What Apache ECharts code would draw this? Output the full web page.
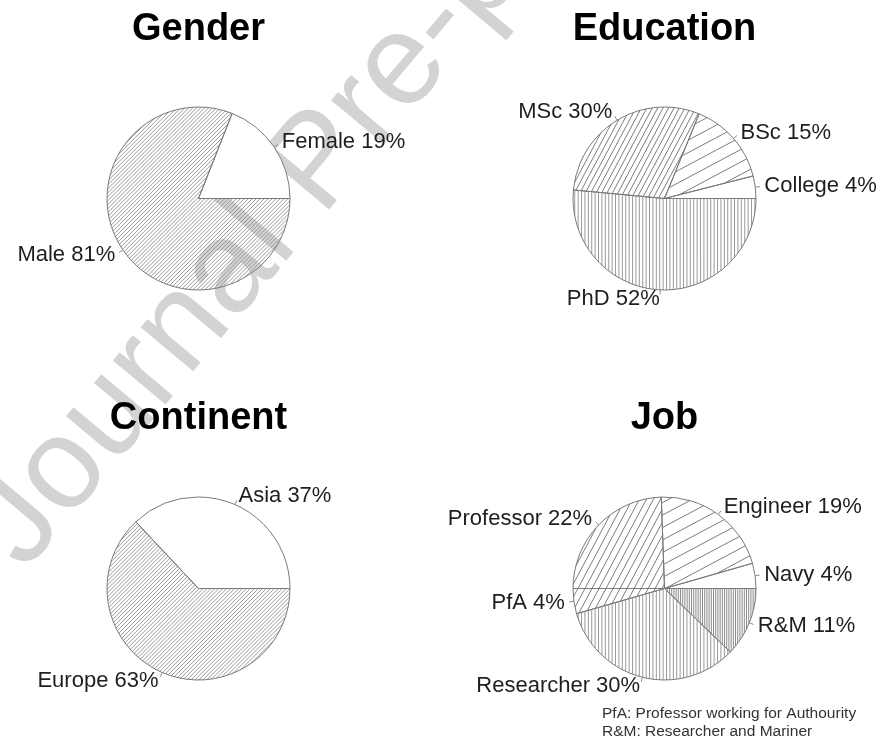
<!DOCTYPE html>
<html>
<head>
<meta charset="utf-8">
<script src="https://cdn.jsdelivr.net/npm/echarts@6/dist/echarts.min.js"></script>
<style>
html,body{margin:0;padding:0;background:#fff;}
#chart{width:883px;height:740px;}
</style>
</head>
<body>
<div id="chart"></div>
<script>
// ---- data ----
const titles = ['Gender', 'Education', 'Continent', 'Job'];
const genderCats = ['Female', 'Male'];
const genderVals = [19, 81];
const eduCats = ['College', 'BSc', 'MSc', 'PhD'];
const eduVals = [4, 15, 30, 52];
const contCats = ['Asia', 'Europe'];
const contVals = [37, 63];
const jobCats = ['Navy', 'Engineer', 'Professor', 'PfA', 'Researcher', 'R&M'];
const jobVals = [4, 19, 22, 4, 30, 11];
const footnotes = ['PfA: Professor working for Authourity', 'R&M: Researcher and Mariner'];
const watermark = 'Journal Pre-proof';

// ---- styles ----
const FONT = "'Liberation Sans', Arial, Helvetica, sans-serif";

function hatch(angleDeg, spacing, color, width, offset) {
  const W = 900, H = 760;
  const c = document.createElement('canvas');
  c.width = W; c.height = H;
  const ctx = c.getContext('2d');
  ctx.strokeStyle = color;
  ctx.lineWidth = width;
  const a = angleDeg * Math.PI / 180;
  const dx = Math.cos(a), dy = -Math.sin(a);
  const nx = -dy, ny = dx;
  const D = Math.hypot(W, H);
  ctx.beginPath();
  for (let t = -D; t <= D; t += spacing) {
    const px = W / 2 + nx * t + (offset || 0), py = H / 2 + ny * t;
    ctx.moveTo(px - dx * D, py - dy * D);
    ctx.lineTo(px + dx * D, py + dy * D);
  }
  ctx.stroke();
  return { image: c, repeat: 'repeat' };
}

const WHITE = '#ffffff';
const dense45 = hatch(45, 2.8, '#8e8e8e', 0.9);
const msc60 = hatch(62, 4.8, '#7c7c7c', 1);
const prof60 = hatch(62, 6.2, '#7c7c7c', 1);
const bsc30 = hatch(28, 11, '#7c7c7c', 1);
const vert = hatch(90, 3.4, '#9a9a9a', 1, 0.5);
const vertDense = hatch(90, 2.2, '#8a8a8a', 1, 0.5);

const genderFill = [WHITE, dense45];
const eduFill = [WHITE, bsc30, msc60, vert];
const contFill = [WHITE, dense45];
const jobFill = [WHITE, bsc30, prof60, prof60, vert, vertDense];

const R = 91.5;
const centers = [[198.5, 198.5], [664.5, 198.5], [198.5, 588.5], [664.5, 588.5]];

const common = {
  type: 'pie', radius: R, startAngle: 0, clockwise: false,
  avoidLabelOverlap: false, silent: true, animation: false,
  labelLayout: { hideOverlap: false },
  emphasis: { disabled: true }
};

// sectors + short tick lines (r -> 1.05 r)
function pieSectors(cats, vals, fills, center) {
  return Object.assign({}, common, {
    center: center,
    label: { show: true, position: 'outside', formatter: ' ', fontSize: 1, lineHeight: 1, color: 'rgba(0,0,0,0)', distanceToLabelLine: 0 },
    labelLine: { show: true, length: R * 0.05, length2: 0, smooth: false, lineStyle: { color: '#8a8a8a', width: 1 } },
    itemStyle: { borderColor: '#7a7a7a', borderWidth: 1 },
    data: cats.map((n, i) => ({ name: n, value: vals[i], itemStyle: { color: fills[i] } }))
  });
}
// text labels at 1.1 r
function pieLabels(cats, vals, center) {
  return Object.assign({}, common, {
    center: center,
    label: { show: true, position: 'outside', formatter: '{b} {c}%', fontSize: 22, fontFamily: FONT, color: '#1e1e1e', distanceToLabelLine: 0, padding: [5, 0, 0, 0] },
    labelLine: { show: false, length: R * 0.1, length2: 0 },
    itemStyle: { color: 'rgba(0,0,0,0)', borderWidth: 0 },
    data: cats.map((n, i) => ({ name: n, value: vals[i] }))
  });
}

const titleY = [29.6, 29.6, 418.6, 418.6];
const graphics = [];
graphics.push({
  type: 'text',
  x: -2.5, y: 549,
  rotation: 50 * Math.PI / 180,
  z: -10,
  silent: true,
  style: { text: watermark, font: '130px ' + FONT, fill: '#d3d3d3', textAlign: 'left', textVerticalAlign: 'middle' }
});
titles.forEach((t, i) => {
  graphics.push({
    type: 'text', x: centers[i][0], y: titleY[i], z: 10, silent: true,
    style: { text: t, font: 'bold 38px ' + FONT, fill: '#000', textAlign: 'center', textVerticalAlign: 'middle' }
  });
});
footnotes.forEach((t, i) => {
  graphics.push({
    type: 'text', x: 602, y: 713.8 + i * 18, z: 10, silent: true,
    style: { text: t, font: '15.5px ' + FONT, fill: '#333', textAlign: 'left', textVerticalAlign: 'middle' }
  });
});

const chart = echarts.init(document.getElementById('chart'), null, { renderer: 'canvas' });
chart.setOption({
  backgroundColor: '#ffffff',
  animation: false,
  graphic: graphics,
  series: [
    pieSectors(genderCats, genderVals, genderFill, centers[0]),
    pieSectors(eduCats, eduVals, eduFill, centers[1]),
    pieSectors(contCats, contVals, contFill, centers[2]),
    pieSectors(jobCats, jobVals, jobFill, centers[3]),
    pieLabels(genderCats, genderVals, centers[0]),
    pieLabels(eduCats, eduVals, centers[1]),
    pieLabels(contCats, contVals, centers[2]),
    pieLabels(jobCats, jobVals, centers[3])
  ]
});
</script>
</body>
</html>
